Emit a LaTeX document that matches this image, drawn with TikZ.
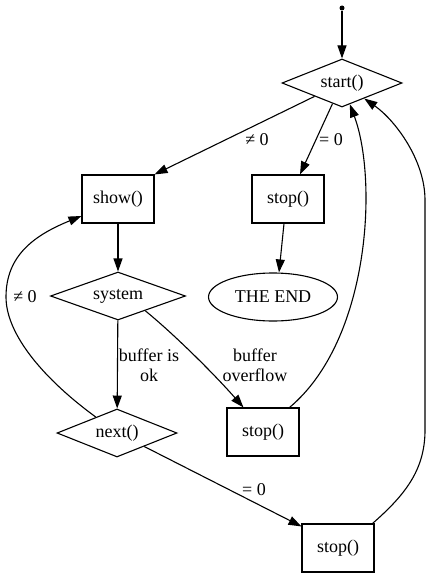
\documentclass[tikz,border=0pt]{standalone}
\usepackage{fontspec}
\setmainfont{Liberation Serif}
\usetikzlibrary{arrows.meta}
\usetikzlibrary{calc}
\usetikzlibrary{positioning}
\usetikzlibrary{shapes.geometric}

\begin{document}
\begin{tikzpicture}[
    x=1pt, y=-1pt,
    line width=1.1pt,
    font=\fontsize{18}{20}\selectfont,
    arrowtip/.style={
      -{Triangle[length=13pt,width=9pt]}
    },
    box/.style={
      draw, minimum width=72pt, minimum height=48pt, inner sep=0pt
    },
    test/.style={
      draw, diamond, aspect=2.5, minimum width=120pt, minimum height=48pt, inner sep=0pt
    }
  ]
    \useasboundingbox (0,0) rectangle (431,578);

    \coordinate (AA) at (342,  8);
    \coordinate (BA) at (342, 83);
    \coordinate (CA) at (118,199);
    \coordinate (CB) at (288,199);
    \coordinate (DA) at (118,296);
    \coordinate (DB) at (273,297);
    \coordinate (EA) at (117,433);
    \coordinate (EB) at (263,432);
    \coordinate (FB) at (338,548);

    \node[circle,fill,inner sep=0pt,minimum size=5pt] (init) at (AA) {};

    \node[test] (start) at (BA) {start()};

    \node[box] (show)  at (CA) {show()};
    \node[box] (stopA) at (CB) {stop()};

    \node[test,minimum width=135pt] (system) at (DA) {system};
    \node[draw,ellipse,minimum width=129pt,minimum height=48pt,inner sep=0pt]
      (theend) at (DB) {THE END};

    \node[test] (next)  at (EA) {next()};
    \node[box]  (stopB) at (EB) {stop()};

    \node[box]  (stopC) at (FB) {stop()};

    \draw[arrowtip] (init) -- (start);

    \draw[arrowtip] (start) -- (show.north east);
    \node (neqA) at (257,140) {≠ 0};

    \draw[arrowtip] (start) -- ([xshift=12pt]stopA.north);
    \node (eqA) at (331,140) {= 0};

    \draw[arrowtip] (show) -- (system);
    \draw[arrowtip] ([xshift=-4pt]stopA.south) -- ([xshift=6pt]theend.north);

    \draw[arrowtip] (system) -- (next);
    \node[align=center] (okL) at (149,365) {buffer is\\ok};

    \draw[arrowtip] ($(system.south)!0.4!(system.east)$)
      .. controls (175,335) and (215,375) .. ([xshift=17pt]stopB.north west);
    \node[align=center] (ovL) at (255,365) {buffer\\overflow};

    \draw[arrowtip] ($(next.north)!0.35!(next.west)$)
      .. controls (45,380) and (6,335) .. (6,297)
      .. controls (6,255) and (35,235) .. ([yshift=-17pt]show.west);
    \node (neqB) at (25,297) {≠ 0};

    \draw[arrowtip] ($(next.south)!0.45!(next.east)$) -- ([yshift=-3pt]stopC.north west);
    \node (eqB) at (254,490) {= 0};

    \draw[arrowtip] ([xshift=-10pt]stopB.north east)
      .. controls (370,340) and (378,180) .. (start);

    \draw[arrowtip] ([xshift=-2pt]stopC.north east)
      .. controls (405,495) and (425,470) .. (425,430) -- (425,200)
      .. controls (425,160) and (395,120) .. (start);
  \end{tikzpicture}
\end{document}
